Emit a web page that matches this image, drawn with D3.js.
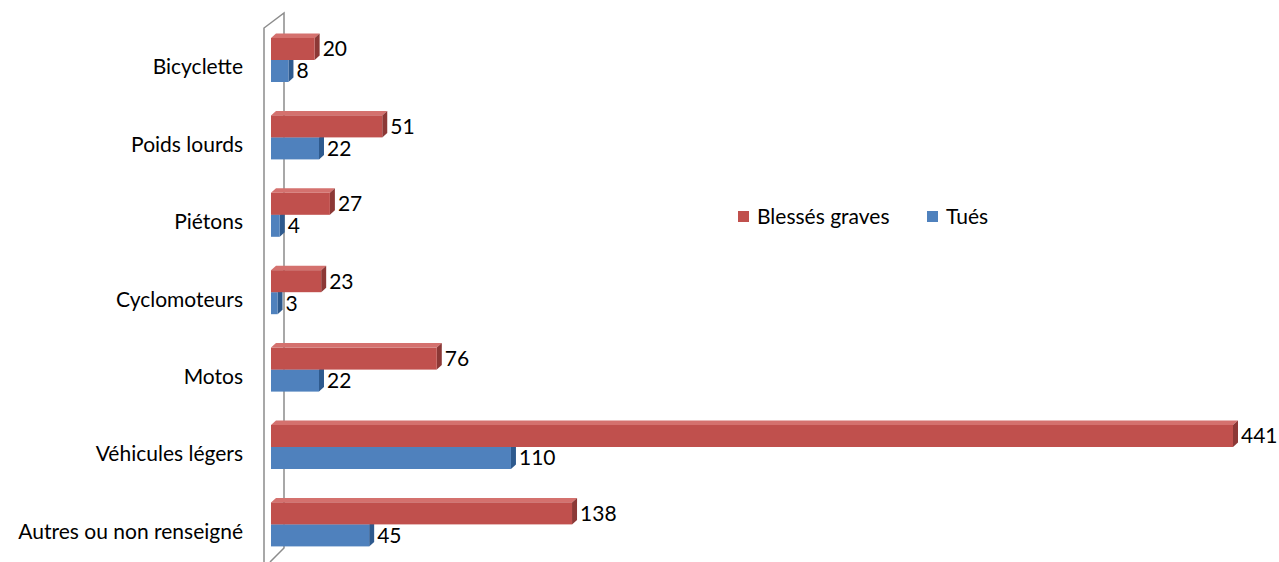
<!DOCTYPE html>
<html><head><meta charset="utf-8">
<script src="https://cdn.jsdelivr.net/npm/d3@7"></script>
<style>html,body{margin:0;padding:0;background:#fff;}svg{display:block;font-family:"Lato",sans-serif;}</style>
</head><body>
<svg id="c" width="1279" height="562"></svg>
<script>
const categories = ["Bicyclette","Poids lourds","Piétons ","Cyclomoteurs","Motos","Véhicules légers","Autres ou non renseigné"];
const blesses = [20,51,27,23,76,441,138];
const tues = [8,22,4,3,22,110,45];
const seriesNames = ["Blessés graves","Tués"];
const seriesColors = [
  {front:"#C0504D", top:"#D4716E", side:"#8C3836"},
  {front:"#4F81BD", top:"#7A9FD0", side:"#2E5A8E"}
];
const seriesData = [blesses, tues];
const FS = 21;

const svg = d3.select("#c");
const dx = 5, dy = -4.5;
const x = d3.scaleLinear().domain([0,441]).range([271,1233]);
const y = d3.scaleBand().domain(categories).range([21.3, 563.1]).paddingInner(0.4315).paddingOuter(0.21575);
const ys = d3.scaleBand().domain([0,1]).range([0, y.bandwidth()]);

// wall
const wall = svg.append("g").attr("fill","none").attr("stroke","#8c8c8c").attr("stroke-width",1.5);
wall.append("path").attr("d","M264,562 L264,28 L284,13 L284,548 L270,562");

const g = svg.append("g");
categories.forEach((c,i)=>{
  [1,0].forEach(s=>{
    const v = seriesData[s][i];
    const x0 = x(0), x1 = x(v);
    const y0 = y(c)+ys(s), h = ys.bandwidth();
    const col = seriesColors[s];
    g.append("path").attr("fill",col.top)
      .attr("d",`M${x0},${y0} L${x0+dx},${y0+dy} L${x1+dx},${y0+dy} L${x1},${y0} Z`);
    g.append("path").attr("fill",col.side)
      .attr("d",`M${x1},${y0} L${x1+dx},${y0+dy} L${x1+dx},${y0+h+dy} L${x1},${y0+h} Z`);
    g.append("rect").attr("x",x0).attr("y",y0).attr("width",x1-x0).attr("height",h).attr("fill",col.front);
    g.append("text").attr("x",x1+dx+3).attr("y",y0+h/2).attr("dy","0.35em")
      .attr("font-size",FS).attr("fill","#000").text(v);
  });
  svg.append("text").attr("x",243).attr("y",y(c)+y.bandwidth()/2+7).attr("dy","0.35em")
    .attr("text-anchor","end").attr("font-size",FS).attr("fill","#000").text(c);
});

// legend
const legX = [738, 927];
seriesNames.forEach((n,i)=>{
  svg.append("rect").attr("x",legX[i]).attr("y",211).attr("width",11).attr("height",11).attr("fill",seriesColors[i].front);
  svg.append("text").attr("x",legX[i]+19).attr("y",217).attr("dy","0.35em").attr("font-size",FS).attr("fill","#000").text(n);
});
</script>
</body></html>
